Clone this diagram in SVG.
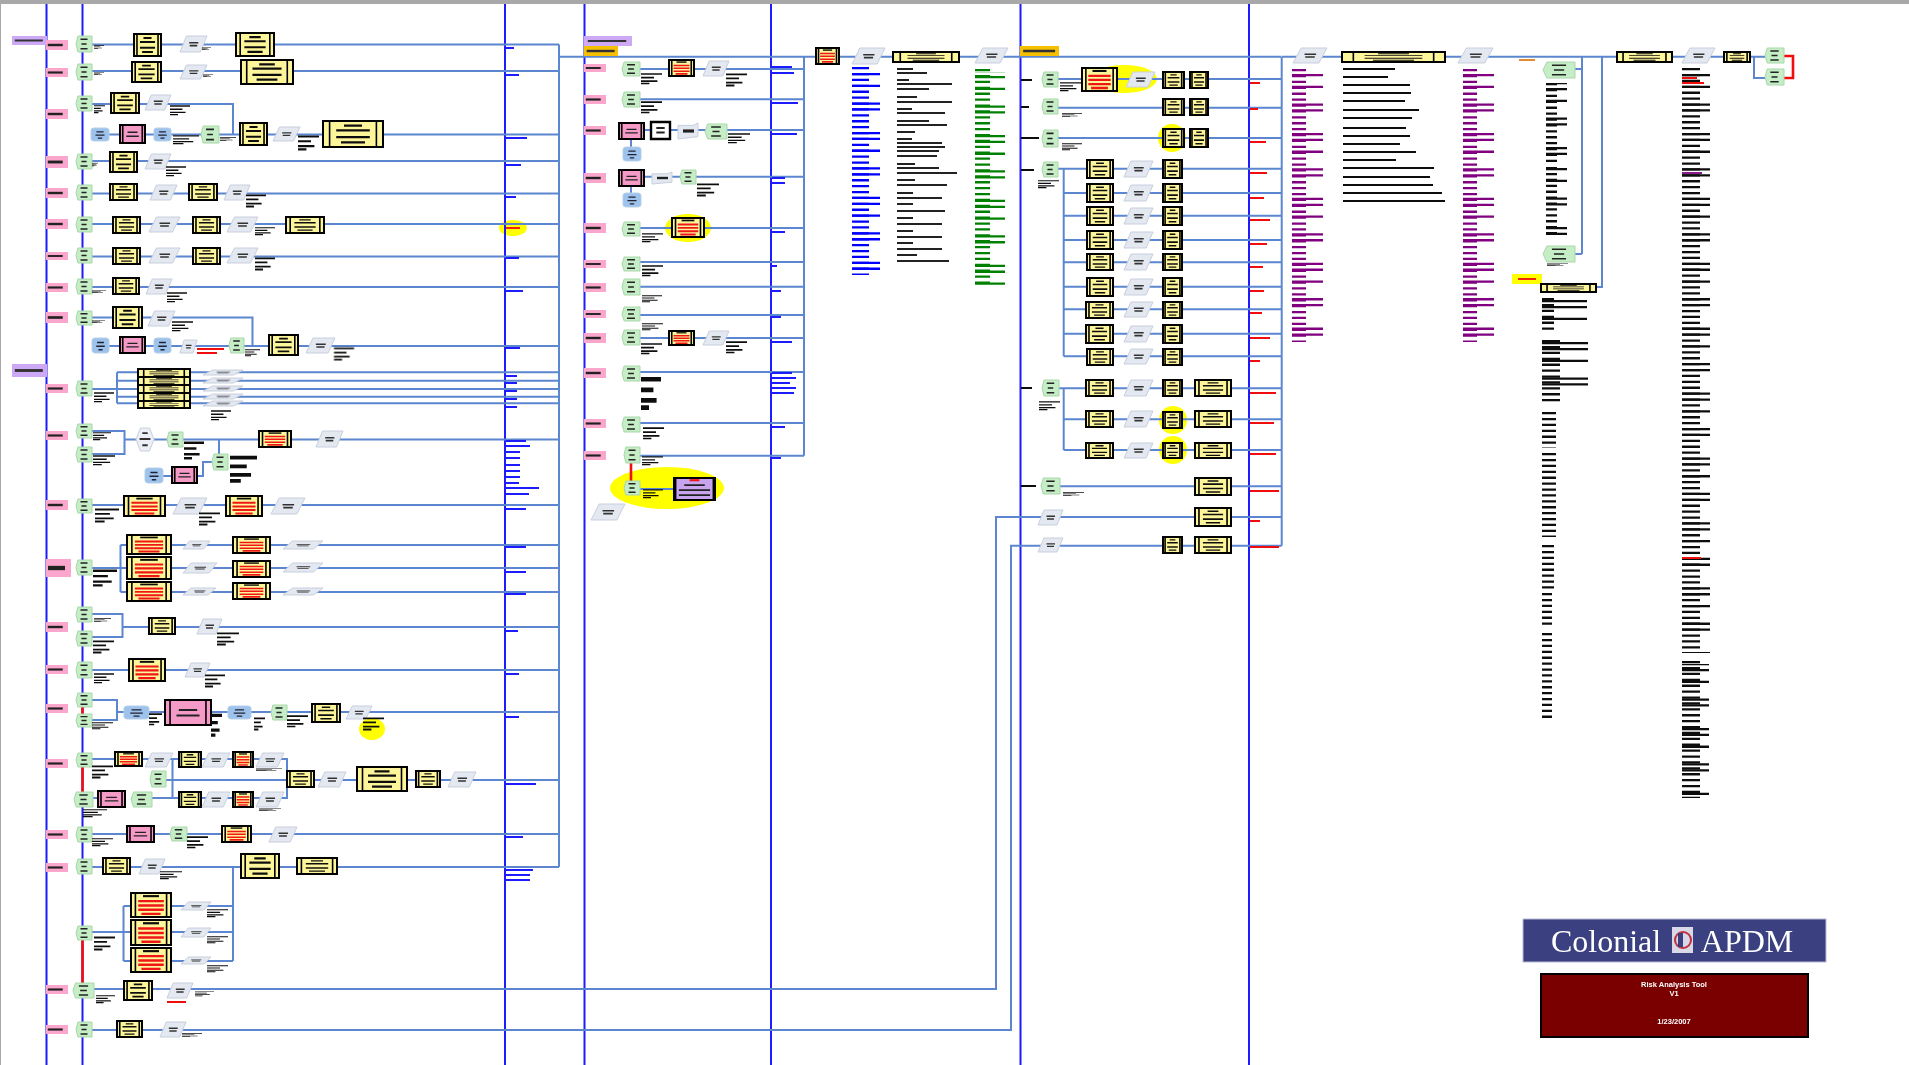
<svg xmlns="http://www.w3.org/2000/svg" width="1909" height="1065" viewBox="0 0 1909 1065">
<style>
symbol{overflow:visible}
.n{vector-effect:non-scaling-stroke}
.l{fill:none;stroke:#5b87d0;stroke-width:2}
.v{fill:none;stroke:#1a1aff;stroke-width:2}
.r{fill:none;stroke:#f01010;stroke-width:2.6}
.hl{fill:#ffff00}
.d{fill:none;stroke-dasharray:2.3 3.6}
.e{fill:none;stroke-dasharray:2.3 3.6 2.3 9.5 2.3 15.4 2.3 3.6 2.3 21.3}
.s{fill:none;stroke-width:1.8}
</style>
<defs>
<filter id="soft" filterUnits="userSpaceOnUse" x="0" y="0" width="1909" height="1065"><feGaussianBlur stdDeviation="0.45"/></filter>
<filter id="soft2" filterUnits="userSpaceOnUse" x="0" y="0" width="1909" height="1065"><feGaussianBlur stdDeviation="0.55"/></filter>
<symbol id="Y" viewBox="0 0 100 100" preserveAspectRatio="none"><rect width="100" height="100" fill="#fdf59a" stroke="#000" stroke-width="2" class="n"/><path d="M11 0V100M89 0V100" stroke="#000" stroke-width="1.6" class="n"/><path d="M35 18H65M22 36H78M22 62H78M30 82H70" stroke="#111" stroke-width="9" fill="none"/></symbol>
<symbol id="R" viewBox="0 0 100 100" preserveAspectRatio="none"><rect width="100" height="100" fill="#fdf59a" stroke="#000" stroke-width="2" class="n"/><path d="M11 0V100M89 0V100" stroke="#000" stroke-width="1.6" class="n"/><path d="M30 13H70" stroke="#111" stroke-width="9"/><path d="M18 34H82M18 52H82M18 70H82M26 87H74" stroke="#f01818" stroke-width="10" fill="none"/></symbol>
<symbol id="K" viewBox="0 0 100 100" preserveAspectRatio="none"><rect width="100" height="100" fill="#f59ac6" stroke="#000" stroke-width="2" class="n"/><path d="M11 0V100M89 0V100" stroke="#000" stroke-width="1.6" class="n"/><path d="M30 40H70M25 62H75" stroke="#222" stroke-width="8" fill="none"/></symbol>
<symbol id="U" viewBox="0 0 100 100" preserveAspectRatio="none"><rect width="100" height="100" fill="#c8a4ee" stroke="#000" stroke-width="2" class="n"/><path d="M4 0V100M96 0V100" stroke="#000" stroke-width="1.6" class="n"/><path d="M38 10H62" stroke="#f01818" stroke-width="10"/><path d="M25 32H75M12 55H88M12 78H88" stroke="#222" stroke-width="8" fill="none"/></symbol>
<symbol id="W" viewBox="0 0 100 100" preserveAspectRatio="none"><rect width="100" height="100" fill="#fff" stroke="#000" stroke-width="2.4" class="n"/><path d="M28 35H72M28 62H72" stroke="#222" stroke-width="12"/></symbol>
<symbol id="G" viewBox="0 0 100 100" preserveAspectRatio="none"><polygon points="12,0 100,0 100,100 12,100 0,50" fill="#c6eec6" stroke="#a9d6a9" stroke-width="1" class="n"/><path d="M28 20H72M34 50H66M28 80H72" stroke="#222" stroke-width="10" fill="none"/></symbol>
<symbol id="P" viewBox="0 0 100 100" preserveAspectRatio="none"><polygon points="24,0 100,0 76,100 0,100" fill="#e3e8f1" stroke="#c8cfdd" stroke-width="1" class="n"/><path d="M34 42H68M36 60H64" stroke="#333" stroke-width="10" fill="none"/></symbol>
<symbol id="B" viewBox="0 0 100 100" preserveAspectRatio="none"><rect width="100" height="100" rx="18" ry="18" fill="#9dc3ec" stroke="#b7cfe8" stroke-width="1" class="n"/><path d="M30 30H70M25 55H75M38 78H62" stroke="#223" stroke-width="9" fill="none"/></symbol>
<symbol id="H" viewBox="0 0 100 100" preserveAspectRatio="none"><polygon points="25,0 75,0 100,50 75,100 25,100 0,50" fill="#eceff5" stroke="#c8cfdd" stroke-width="1" class="n"/><path d="M35 22H65M20 48H80M35 75H65" stroke="#333" stroke-width="8" fill="none"/></symbol>
<symbol id="D" viewBox="0 0 100 100" preserveAspectRatio="none"><polygon points="0,15 75,15 100,0 100,85 0,100" fill="#e3e8f1" stroke="#c8cfdd" stroke-width="1" class="n"/><path d="M25 50H80" stroke="#222" stroke-width="20"/></symbol>
<symbol id="T" viewBox="0 0 100 100" preserveAspectRatio="none"><rect width="100" height="100" fill="#fba6cc"/><path d="M8 50H76" stroke="#222" stroke-width="24"/></symbol>
<symbol id="V" viewBox="0 0 100 100" preserveAspectRatio="none"><rect width="100" height="100" fill="#cda8f5"/><path d="M8 50H88" stroke="#333" stroke-width="22"/></symbol>
<symbol id="O" viewBox="0 0 100 100" preserveAspectRatio="none"><rect width="100" height="100" fill="#f5c000"/><path d="M8 50H90" stroke="#333" stroke-width="24"/></symbol>
<symbol id="C" viewBox="0 0 100 100" preserveAspectRatio="none"><path d="M0 10H100M0 42H62M0 74H78M0 96H40" stroke="#111" stroke-width="14" fill="none"/></symbol>
</defs>
<g filter="url(#soft)">
<rect width="1909" height="1065" fill="#fff"/>
<rect width="1909" height="4" fill="#a8a8a8"/>
<rect width="1" height="1065" fill="#a8a8a8"/>

<g id="highlights" class="hl">
<ellipse cx="513" cy="228" rx="14" ry="8"/>
<ellipse cx="372" cy="729" rx="13" ry="11"/>
<ellipse cx="688" cy="228" rx="23" ry="14"/>
<ellipse cx="667" cy="488" rx="57" ry="21"/>
<ellipse cx="1124" cy="79" rx="33" ry="14"/>
<circle cx="1172" cy="138" r="14"/>
<circle cx="1173" cy="420" r="14"/>
<circle cx="1173" cy="450" r="14"/>
<rect x="1512" y="274" width="30" height="10"/>
</g>

<g id="swimlanes" class="v">
<path d="M46.5 4V1065M82.5 4V1065M505 4V1065M584.5 4V1065M771 4V1065M1020.5 4V1065M1249 4V1065"/>
</g>

<g id="connectors">
<g class="l">
<path d="M92 44.5H559M92 71H559M92 104H233V134.5M92 134.5H559M92 161H559M92 193.5H559M92 224H559M92 256.5H559M92 287H559M92 317.5H252.5V346M92 346H559"/>
<path d="M92 389H117M117 372.3V403.3M117 372.3H559M117 380.7H559M117 389H559M117 396.7H559M117 403.3H559"/>
<path d="M92 431H124.5V454H92M124.5 439.5H559M219 439.5V454M163 476H203V462H212"/>
<path d="M92 505H559M92 568H120.5M120.5 545V592M120.5 545H559M120.5 568H559M120.5 592H559"/>
<path d="M92 614H122.5V637H92M122.5 627H559M92 670H559M92 700H117V720H92M117 712H559"/>
<path d="M92 759H287V798H131M172.5 759V798M152 798H179M166 780H559M92 798H98M92 834H559M92 867H559"/>
<path d="M92 932H123.5M123.5 906V961M123.5 906H233M123.5 932H233M123.5 961H233M233 867V961"/>
<path d="M559 44.5V867M559 56.7H1281M1281.7 56.7V545.7"/>
<path d="M94 989H996V517H1281.7M92 1030H1011V545.7H1281.7"/>
<path d="M640 69H804M640 99.3H804M644 130H804M631 139V147M631 186V193M644 176.7H804M640 228H804M640 262H804M640 286.7H804M640 315H804M640 338H804M640 372H804M640 423H804M640 455.7H804M804 56.7V455.7M640 489H674"/>
<path d="M1058 79H1281.7M1058 107.7H1281.7M1058 138H1281.7M1058 168.7H1281.7M1063.7 168.7V356.3M1063.7 193H1281.7M1063.7 215.7H1281.7M1063.7 240H1281.7M1063.7 262.3H1281.7M1063.7 286.7H1281.7M1063.7 309.3H1281.7M1063.7 333.7H1281.7M1063.7 356.3H1281.7"/>
<path d="M1059 388.3H1281.7M1063.7 388.3V450M1063.7 419.3H1281.7M1063.7 450H1281.7M1060 486.3H1281.7"/>
<path d="M1281.7 56.7H1724M1575 69H1582M1575 254H1582M1582 56.7V254M1602 56.7V287H1596M1750 56.7H1765M1754 56.7V78H1765"/>
</g>
<g class="r">
<path d="M82.5 707V714M82.5 767V792M82.5 940V983M631 463V481M1784 56H1793V78H1784"/>
</g>
</g>

<g id="nodes">
<g id="t0"><use href="#V" x="12" y="36" width="35" height="9"/></g>
<g id="t1"><use href="#T" x="46" y="40" width="22" height="10"/></g>
<g id="t2"><use href="#T" x="46" y="68" width="22" height="9"/></g>
<g id="t3"><use href="#T" x="46" y="109" width="22" height="10"/></g>
<g id="t4"><use href="#T" x="46" y="156" width="22" height="12"/></g>
<g id="t5"><use href="#T" x="46" y="188" width="22" height="10"/></g>
<g id="t6"><use href="#T" x="46" y="219" width="22" height="10"/></g>
<g id="t7"><use href="#T" x="46" y="252" width="22" height="8"/></g>
<g id="t8"><use href="#T" x="46" y="283" width="22" height="9"/></g>
<g id="t9"><use href="#T" x="46" y="312" width="22" height="11"/></g>
<g id="t10"><use href="#V" x="12" y="364" width="35" height="13"/></g>
<g id="t11"><use href="#T" x="46" y="384" width="22" height="9"/></g>
<g id="t12"><use href="#T" x="46" y="431" width="22" height="9"/></g>
<g id="t13"><use href="#T" x="46" y="500" width="22" height="10"/></g>
<g id="t14"><use href="#T" x="46" y="559" width="25" height="18"/></g>
<g id="t15"><use href="#T" x="46" y="622" width="22" height="10"/></g>
<g id="t16"><use href="#T" x="46" y="665" width="22" height="9"/></g>
<g id="t17"><use href="#T" x="46" y="704" width="22" height="9"/></g>
<g id="t18"><use href="#T" x="46" y="759" width="22" height="9"/></g>
<g id="t19"><use href="#T" x="46" y="830" width="22" height="9"/></g>
<g id="t20"><use href="#T" x="46" y="863" width="22" height="9"/></g>
<g id="t21"><use href="#T" x="46" y="985" width="22" height="9"/></g>
<g id="t22"><use href="#T" x="46" y="1025" width="22" height="9"/></g>

<g id="a1"><use href="#G" x="76" y="36" width="16" height="16"/></g>
<g id="a2"><use href="#Y" x="134" y="34" width="27" height="22"/></g>
<g id="a3"><use href="#P" x="180" y="36" width="27" height="16"/></g>
<g id="a4"><use href="#Y" x="236" y="33" width="38" height="23"/></g>
<g id="b1"><use href="#G" x="76" y="64" width="16" height="16"/></g>
<g id="b2"><use href="#Y" x="132" y="62" width="29" height="20"/></g>
<g id="b3"><use href="#P" x="180" y="65" width="27" height="14"/></g>
<g id="b4"><use href="#Y" x="241" y="60" width="52" height="24"/></g>
<g id="c1"><use href="#G" x="76" y="96" width="16" height="15"/></g>
<g id="c2"><use href="#Y" x="111" y="93" width="28" height="20"/></g>
<g id="c3"><use href="#P" x="145" y="95" width="26" height="15"/></g>
<g id="c4"><use href="#B" x="91" y="128" width="18" height="13"/></g>
<g id="c5"><use href="#K" x="120" y="125" width="25" height="18"/></g>
<g id="c6"><use href="#B" x="154" y="128" width="17" height="13"/></g>
<g id="c7"><use href="#G" x="201" y="126" width="18" height="17"/></g>
<g id="c8"><use href="#Y" x="240" y="123" width="27" height="22"/></g>
<g id="c9"><use href="#P" x="273" y="127" width="27" height="14"/></g>
<g id="c10"><use href="#Y" x="323" y="121" width="60" height="26"/></g>
<g id="d1"><use href="#G" x="76" y="154" width="16" height="15"/></g>
<g id="d2"><use href="#Y" x="110" y="152" width="27" height="20"/></g>
<g id="d3"><use href="#P" x="145" y="154" width="26" height="15"/></g>
<g id="e1"><use href="#G" x="76" y="185" width="16" height="15"/></g>
<g id="e2"><use href="#Y" x="110" y="184" width="27" height="16"/></g>
<g id="e3"><use href="#P" x="150" y="185" width="27" height="15"/></g>
<g id="e4"><use href="#Y" x="189" y="184" width="28" height="16"/></g>
<g id="e5"><use href="#P" x="224" y="185" width="26" height="15"/></g>
<g id="f1"><use href="#G" x="76" y="217" width="16" height="15"/></g>
<g id="f2"><use href="#Y" x="113" y="217" width="27" height="16"/></g>
<g id="f3"><use href="#P" x="149" y="217" width="31" height="15"/></g>
<g id="f4"><use href="#Y" x="193" y="217" width="27" height="16"/></g>
<g id="f5"><use href="#P" x="227" y="217" width="31" height="15"/></g>
<g id="f6"><use href="#Y" x="286" y="217" width="38" height="16"/></g>
<g id="g1"><use href="#G" x="76" y="248" width="16" height="15"/></g>
<g id="g2"><use href="#Y" x="113" y="248" width="27" height="16"/></g>
<g id="g3"><use href="#P" x="149" y="248" width="31" height="15"/></g>
<g id="g4"><use href="#Y" x="193" y="248" width="27" height="16"/></g>
<g id="g5"><use href="#P" x="227" y="248" width="31" height="15"/></g>
<g id="h1"><use href="#G" x="76" y="279" width="16" height="15"/></g>
<g id="h2"><use href="#Y" x="113" y="278" width="26" height="16"/></g>
<g id="h3"><use href="#P" x="146" y="279" width="26" height="15"/></g>
<g id="i1"><use href="#G" x="76" y="311" width="16" height="14"/></g>
<g id="i2"><use href="#Y" x="113" y="307" width="29" height="21"/></g>
<g id="i3"><use href="#P" x="148" y="311" width="27" height="15"/></g>
<g id="i4"><use href="#B" x="92" y="338" width="17" height="15"/></g>
<g id="i5"><use href="#K" x="120" y="337" width="25" height="16"/></g>
<g id="i6"><use href="#B" x="154" y="338" width="17" height="15"/></g>
<g id="i7"><use href="#P" x="180" y="340" width="17" height="13"/></g>
<g id="i8"><use href="#G" x="229" y="338" width="15" height="15"/></g>
<g id="i9"><use href="#Y" x="269" y="335" width="29" height="20"/></g>
<g id="i10"><use href="#P" x="306" y="338" width="29" height="15"/></g>

<g id="j1"><use href="#G" x="76" y="381" width="16" height="15"/></g>
<g id="j2"><use href="#Y" x="138" y="369" width="52" height="8"/></g>
<g id="j3"><use href="#Y" x="138" y="377" width="52" height="8"/></g>
<g id="j4"><use href="#Y" x="138" y="385" width="52" height="8"/></g>
<g id="j5"><use href="#Y" x="138" y="393" width="52" height="8"/></g>
<g id="j6"><use href="#Y" x="138" y="401" width="52" height="7"/></g>
<g id="j7"><use href="#P" x="203" y="370" width="40" height="5"/></g>
<g id="j8"><use href="#P" x="203" y="378" width="40" height="5"/></g>
<g id="j9"><use href="#P" x="203" y="386" width="40" height="5"/></g>
<g id="j10"><use href="#P" x="203" y="394" width="40" height="5"/></g>
<g id="j11"><use href="#P" x="203" y="401" width="40" height="5"/></g>
<g id="k1"><use href="#G" x="76" y="424" width="16" height="14"/></g>
<g id="k2"><use href="#G" x="76" y="447" width="16" height="15"/></g>
<g id="k3"><use href="#H" x="136" y="428" width="18" height="23"/></g>
<g id="k4"><use href="#G" x="167" y="432" width="16" height="15"/></g>
<g id="k5"><use href="#R" x="259" y="431" width="32" height="16"/></g>
<g id="k6"><use href="#P" x="316" y="431" width="27" height="16"/></g>
<g id="k7"><use href="#G" x="212" y="454" width="16" height="16"/></g>
<g id="k8"><use href="#B" x="145" y="468" width="18" height="15"/></g>
<g id="k9"><use href="#K" x="172" y="467" width="25" height="16"/></g>
<g id="l1"><use href="#G" x="76" y="499" width="16" height="14"/></g>
<g id="l2"><use href="#R" x="124" y="496" width="41" height="20"/></g>
<g id="l3"><use href="#P" x="173" y="498" width="34" height="16"/></g>
<g id="l4"><use href="#R" x="226" y="496" width="36" height="20"/></g>
<g id="l5"><use href="#P" x="271" y="498" width="34" height="16"/></g>
<g id="m1"><use href="#G" x="76" y="560" width="16" height="15"/></g>
<g id="m2"><use href="#R" x="127" y="535" width="44" height="19"/></g>
<g id="m3"><use href="#R" x="127" y="557" width="44" height="22"/></g>
<g id="m4"><use href="#R" x="127" y="582" width="44" height="19"/></g>
<g id="m5"><use href="#P" x="183" y="541" width="27" height="8"/></g>
<g id="m6"><use href="#P" x="183" y="563" width="34" height="10"/></g>
<g id="m7"><use href="#P" x="183" y="588" width="33" height="7"/></g>
<g id="m8"><use href="#R" x="233" y="537" width="37" height="16"/></g>
<g id="m9"><use href="#R" x="233" y="561" width="37" height="16"/></g>
<g id="m10"><use href="#R" x="233" y="583" width="37" height="16"/></g>
<g id="m11"><use href="#P" x="283" y="541" width="40" height="8"/></g>
<g id="m12"><use href="#P" x="283" y="563" width="40" height="9"/></g>
<g id="m13"><use href="#P" x="283" y="588" width="40" height="7"/></g>
<g id="o1"><use href="#G" x="76" y="607" width="16" height="15"/></g>
<g id="o2"><use href="#G" x="76" y="631" width="16" height="15"/></g>
<g id="o3"><use href="#Y" x="149" y="618" width="26" height="16"/></g>
<g id="o4"><use href="#P" x="197" y="619" width="25" height="15"/></g>
<g id="p1"><use href="#G" x="76" y="662" width="16" height="16"/></g>
<g id="p2"><use href="#R" x="129" y="659" width="36" height="22"/></g>
<g id="p3"><use href="#P" x="185" y="663" width="25" height="14"/></g>
<g id="q1"><use href="#G" x="76" y="693" width="16" height="14"/></g>
<g id="q2"><use href="#G" x="76" y="714" width="16" height="13"/></g>
<g id="q3"><use href="#B" x="124" y="706" width="25" height="13"/></g>
<g id="q4"><use href="#K" x="165" y="700" width="46" height="25"/></g>
<g id="q5"><use href="#B" x="228" y="706" width="23" height="13"/></g>
<g id="q6"><use href="#G" x="271" y="705" width="16" height="15"/></g>
<g id="q7"><use href="#Y" x="312" y="704" width="28" height="18"/></g>
<g id="q8"><use href="#P" x="346" y="706" width="26" height="13"/></g>
<g id="r1"><use href="#G" x="76" y="753" width="16" height="14"/></g>
<g id="r2"><use href="#R" x="115" y="752" width="27" height="14"/></g>
<g id="r3"><use href="#P" x="145" y="753" width="28" height="14"/></g>
<g id="r4"><use href="#Y" x="179" y="752" width="22" height="15"/></g>
<g id="r5"><use href="#P" x="202" y="753" width="28" height="14"/></g>
<g id="r6"><use href="#R" x="233" y="752" width="20" height="15"/></g>
<g id="r7"><use href="#P" x="256" y="753" width="28" height="14"/></g>
<g id="r8"><use href="#G" x="150" y="771" width="16" height="16"/></g>
<g id="r9"><use href="#Y" x="287" y="771" width="27" height="16"/></g>
<g id="r10"><use href="#P" x="318" y="772" width="28" height="15"/></g>
<g id="r11"><use href="#Y" x="357" y="767" width="50" height="24"/></g>
<g id="r12"><use href="#Y" x="416" y="771" width="24" height="16"/></g>
<g id="r13"><use href="#P" x="448" y="772" width="28" height="15"/></g>
<g id="r14"><use href="#G" x="74" y="792" width="19" height="15"/></g>
<g id="r15"><use href="#K" x="98" y="791" width="27" height="16"/></g>
<g id="r16"><use href="#G" x="131" y="792" width="21" height="15"/></g>
<g id="r17"><use href="#Y" x="179" y="792" width="22" height="15"/></g>
<g id="r18"><use href="#P" x="202" y="792" width="28" height="15"/></g>
<g id="r19"><use href="#R" x="233" y="792" width="20" height="15"/></g>
<g id="r20"><use href="#P" x="256" y="792" width="28" height="15"/></g>
<g id="s1"><use href="#G" x="76" y="827" width="16" height="15"/></g>
<g id="s2"><use href="#K" x="127" y="826" width="27" height="16"/></g>
<g id="s3"><use href="#G" x="170" y="827" width="17" height="14"/></g>
<g id="s4"><use href="#R" x="222" y="826" width="29" height="16"/></g>
<g id="s5"><use href="#P" x="269" y="827" width="28" height="15"/></g>
<g id="u1"><use href="#G" x="76" y="859" width="16" height="15"/></g>
<g id="u2"><use href="#Y" x="103" y="858" width="27" height="16"/></g>
<g id="u3"><use href="#P" x="139" y="859" width="26" height="15"/></g>
<g id="u4"><use href="#Y" x="241" y="854" width="38" height="24"/></g>
<g id="u5"><use href="#Y" x="297" y="858" width="40" height="16"/></g>
<g id="w1"><use href="#G" x="76" y="926" width="16" height="14"/></g>
<g id="w2"><use href="#R" x="131" y="893" width="40" height="24"/></g>
<g id="w3"><use href="#R" x="131" y="920" width="40" height="25"/></g>
<g id="w4"><use href="#R" x="131" y="948" width="40" height="24"/></g>
<g id="w5"><use href="#P" x="181" y="902" width="30" height="8"/></g>
<g id="w6"><use href="#P" x="181" y="928" width="30" height="9"/></g>
<g id="w7"><use href="#P" x="181" y="957" width="30" height="7"/></g>
<g id="x1"><use href="#G" x="73" y="983" width="21" height="15"/></g>
<g id="x2"><use href="#Y" x="124" y="981" width="28" height="19"/></g>
<g id="x3"><use href="#P" x="167" y="983" width="26" height="15"/></g>
<g id="x4"><use href="#G" x="76" y="1022" width="16" height="15"/></g>
<g id="x5"><use href="#Y" x="117" y="1021" width="25" height="16"/></g>
<g id="x6"><use href="#P" x="160" y="1022" width="26" height="15"/></g>

<g id="mt1"><use href="#V" x="584" y="36" width="48" height="10"/></g>
<g id="mt2"><use href="#O" x="584" y="46" width="34" height="10"/></g>
<g id="mt3"><use href="#T" x="584" y="64" width="22" height="8"/></g>
<g id="mt4"><use href="#T" x="584" y="95" width="22" height="9"/></g>
<g id="mt5"><use href="#T" x="584" y="126" width="22" height="9"/></g>
<g id="mt6"><use href="#T" x="584" y="173" width="22" height="10"/></g>
<g id="mt7"><use href="#T" x="584" y="223" width="22" height="10"/></g>
<g id="mt8"><use href="#T" x="584" y="260" width="22" height="8"/></g>
<g id="mt9"><use href="#T" x="584" y="283" width="22" height="9"/></g>
<g id="mt10"><use href="#T" x="584" y="310" width="22" height="8"/></g>
<g id="mt11"><use href="#T" x="584" y="333" width="22" height="10"/></g>
<g id="mt12"><use href="#T" x="584" y="368" width="22" height="10"/></g>
<g id="mt13"><use href="#T" x="584" y="419" width="22" height="9"/></g>
<g id="mt14"><use href="#T" x="584" y="451" width="22" height="9"/></g>
<g id="aa1"><use href="#G" x="622" y="62" width="18" height="14"/></g>
<g id="aa2"><use href="#R" x="669" y="60" width="25" height="16"/></g>
<g id="aa3"><use href="#P" x="703" y="61" width="26" height="15"/></g>
<g id="ab1"><use href="#G" x="622" y="92" width="18" height="15"/></g>
<g id="ac1"><use href="#K" x="619" y="123" width="25" height="16"/></g>
<g id="ac2"><use href="#W" x="651" y="122" width="19" height="17"/></g>
<g id="ac3"><use href="#D" x="678" y="123" width="20" height="16"/></g>
<g id="ac4"><use href="#G" x="705" y="124" width="22" height="15"/></g>
<g id="ac5"><use href="#B" x="623" y="147" width="18" height="14"/></g>
<g id="ad1"><use href="#K" x="619" y="170" width="25" height="16"/></g>
<g id="ad2"><use href="#B" x="623" y="193" width="18" height="14"/></g>
<g id="ad3"><use href="#D" x="652" y="172" width="20" height="12"/></g>
<g id="ad4"><use href="#G" x="680" y="170" width="16" height="14"/></g>
<g id="ae1"><use href="#G" x="622" y="222" width="18" height="14"/></g>
<g id="ae2"><use href="#R" x="672" y="218" width="32" height="19"/></g>
<g id="af1"><use href="#G" x="622" y="257" width="18" height="14"/></g>
<g id="ag1"><use href="#G" x="622" y="279" width="18" height="16"/></g>
<g id="ah1"><use href="#G" x="622" y="307" width="18" height="14"/></g>
<g id="ai1"><use href="#G" x="622" y="330" width="18" height="15"/></g>
<g id="ai2"><use href="#R" x="669" y="331" width="25" height="14"/></g>
<g id="ai3"><use href="#P" x="703" y="331" width="26" height="14"/></g>
<g id="aj1"><use href="#G" x="622" y="366" width="18" height="15"/></g>
<g id="ak1"><use href="#G" x="622" y="417" width="18" height="15"/></g>
<g id="al1"><use href="#G" x="624" y="447" width="16" height="16"/></g>
<g id="al2"><use href="#G" x="624" y="481" width="16" height="14"/></g>
<g id="al3"><use href="#U" x="674" y="478" width="41" height="22"/></g>
<g id="al4"><use href="#P" x="591" y="504" width="34" height="16"/></g>
<g id="ma1"><use href="#R" x="816" y="48" width="23" height="16"/></g>
<g id="ma2"><use href="#P" x="852" y="48" width="33" height="16"/></g>
<g id="ma3"><use href="#Y" x="893" y="52" width="66" height="10"/></g>
<g id="ma4"><use href="#P" x="975" y="48" width="33" height="15"/></g>
<g id="ma5"><use href="#O" x="1020" y="46" width="39" height="10"/></g>

<g id="ba1"><use href="#G" x="1042" y="72" width="16" height="15"/></g>
<g id="ba2"><use href="#R" x="1082" y="68" width="35" height="23"/></g>
<g id="ba3"><use href="#P" x="1126" y="72" width="29" height="15"/></g>
<g id="ba4"><use href="#Y" x="1163" y="72" width="21" height="16"/></g>
<g id="ba5"><use href="#Y" x="1190" y="72" width="18" height="16"/></g>
<g id="bb1"><use href="#G" x="1042" y="99" width="16" height="15"/></g>
<g id="bb2"><use href="#Y" x="1163" y="99" width="21" height="16"/></g>
<g id="bb3"><use href="#Y" x="1190" y="99" width="18" height="16"/></g>
<g id="bc1"><use href="#G" x="1042" y="130" width="16" height="17"/></g>
<g id="bc2"><use href="#Y" x="1163" y="129" width="21" height="18"/></g>
<g id="bc3"><use href="#Y" x="1190" y="129" width="18" height="18"/></g>
<g id="bd0"><use href="#G" x="1042" y="162" width="16" height="15"/></g>
<g id="bd1"><use href="#Y" x="1087" y="160" width="26" height="18"/></g><g id="bd2"><use href="#P" x="1124" y="161" width="29" height="16"/></g><g id="bd3"><use href="#Y" x="1163" y="160" width="19" height="18"/></g>
<g id="be1"><use href="#Y" x="1087" y="184" width="26" height="18"/></g><g id="be2"><use href="#P" x="1124" y="185" width="29" height="16"/></g><g id="be3"><use href="#Y" x="1163" y="184" width="19" height="18"/></g>
<g id="bf1"><use href="#Y" x="1087" y="207" width="26" height="18"/></g><g id="bf2"><use href="#P" x="1124" y="208" width="29" height="16"/></g><g id="bf3"><use href="#Y" x="1163" y="207" width="19" height="18"/></g>
<g id="bg1"><use href="#Y" x="1087" y="231" width="26" height="18"/></g><g id="bg2"><use href="#P" x="1124" y="232" width="29" height="16"/></g><g id="bg3"><use href="#Y" x="1163" y="231" width="19" height="18"/></g>
<g id="bh1"><use href="#Y" x="1087" y="254" width="26" height="16"/></g><g id="bh2"><use href="#P" x="1124" y="254" width="29" height="16"/></g><g id="bh3"><use href="#Y" x="1163" y="254" width="19" height="16"/></g>
<g id="bi1"><use href="#Y" x="1087" y="278" width="26" height="18"/></g><g id="bi2"><use href="#P" x="1124" y="279" width="29" height="16"/></g><g id="bi3"><use href="#Y" x="1163" y="278" width="19" height="18"/></g>
<g id="bj1"><use href="#Y" x="1086" y="302" width="27" height="16"/></g><g id="bj2"><use href="#P" x="1124" y="302" width="29" height="15"/></g><g id="bj3"><use href="#Y" x="1163" y="302" width="19" height="16"/></g>
<g id="bk1"><use href="#Y" x="1086" y="325" width="27" height="18"/></g><g id="bk2"><use href="#P" x="1124" y="326" width="29" height="16"/></g><g id="bk3"><use href="#Y" x="1163" y="325" width="19" height="18"/></g>
<g id="bl1"><use href="#Y" x="1087" y="349" width="26" height="16"/></g><g id="bl2"><use href="#P" x="1124" y="349" width="29" height="15"/></g><g id="bl3"><use href="#Y" x="1163" y="349" width="19" height="16"/></g>
<g id="bm0"><use href="#G" x="1042" y="380" width="17" height="16"/></g>
<g id="bm1"><use href="#Y" x="1086" y="380" width="27" height="16"/></g><g id="bm2"><use href="#P" x="1124" y="380" width="29" height="16"/></g><g id="bm3"><use href="#Y" x="1163" y="380" width="19" height="16"/></g><g id="bm4"><use href="#Y" x="1195" y="380" width="36" height="16"/></g>
<g id="bn1"><use href="#Y" x="1086" y="411" width="27" height="16"/></g><g id="bn2"><use href="#P" x="1124" y="411" width="29" height="16"/></g><g id="bn3"><use href="#Y" x="1163" y="412" width="19" height="16"/></g><g id="bn4"><use href="#Y" x="1195" y="411" width="36" height="16"/></g>
<g id="bo1"><use href="#Y" x="1086" y="443" width="27" height="15"/></g><g id="bo2"><use href="#P" x="1124" y="443" width="29" height="15"/></g><g id="bo3"><use href="#Y" x="1163" y="443" width="19" height="15"/></g><g id="bo4"><use href="#Y" x="1195" y="443" width="36" height="15"/></g>
<g id="bp1"><use href="#G" x="1041" y="478" width="19" height="16"/></g>
<g id="bp2"><use href="#Y" x="1195" y="478" width="36" height="17"/></g>
<g id="bq1"><use href="#P" x="1038" y="510" width="25" height="15"/></g>
<g id="bq2"><use href="#Y" x="1195" y="508" width="36" height="18"/></g>
<g id="br1"><use href="#P" x="1038" y="538" width="25" height="14"/></g>
<g id="br2"><use href="#Y" x="1163" y="537" width="19" height="16"/></g>
<g id="br3"><use href="#Y" x="1195" y="537" width="36" height="16"/></g>

<g id="ca1"><use href="#P" x="1293" y="48" width="34" height="15"/></g>
<g id="ca2"><use href="#Y" x="1342" y="52" width="103" height="10"/></g>
<g id="ca3"><use href="#P" x="1458" y="48" width="35" height="15"/></g>
<g id="ca4"><use href="#Y" x="1617" y="52" width="55" height="10"/></g>
<g id="ca5"><use href="#G" x="1543" y="62" width="32" height="16"/></g>
<g id="ca6"><use href="#G" x="1543" y="246" width="32" height="16"/></g>
<g id="ca7"><use href="#Y" x="1541" y="284" width="55" height="8"/></g>
<g id="ca8"><use href="#P" x="1682" y="48" width="33" height="15"/></g>
<g id="ca9"><use href="#Y" x="1724" y="52" width="26" height="10"/></g>
<g id="ca10"><use href="#G" x="1765" y="48" width="19" height="15"/></g>
<g id="ca11"><use href="#G" x="1765" y="69" width="19" height="16"/></g>

<g id="brand">
<rect x="1523" y="919" width="303" height="43" fill="#3a3f80" stroke="#b9bcd6" stroke-width="1"/>
<text x="1606" y="952" font-family="Liberation Serif, serif" font-size="32" fill="#fff" text-anchor="middle">Colonial</text>
<rect x="1672" y="927" width="21" height="26" fill="#d8d8e6"/>
<circle cx="1683" cy="940" r="8" fill="none" stroke="#c03040" stroke-width="2"/>
<rect x="1678" y="933" width="5" height="14" fill="#3a3f80"/>
<text x="1747" y="952" font-family="Liberation Serif, serif" font-size="32" fill="#fff" text-anchor="middle">APDM</text>
</g>
<g id="title">
<rect x="1541" y="974" width="267" height="63" fill="#7a0000" stroke="#000" stroke-width="2"/>
<text x="1674" y="987" font-family="Liberation Sans, sans-serif" font-size="7.5" font-weight="700" fill="#fff" text-anchor="middle">Risk Analysis Tool</text>
<text x="1674" y="996" font-family="Liberation Sans, sans-serif" font-size="7.5" font-weight="700" fill="#fff" text-anchor="middle">V1</text>
<text x="1674" y="1024" font-family="Liberation Sans, sans-serif" font-size="7.5" font-weight="700" fill="#fff" text-anchor="middle">1/23/2007</text>
</g>
</g>

<g filter="url(#soft2)">
<g id="captions">
<use href="#C" x="94" y="45" width="10" height="4"/><use href="#C" x="202" y="47" width="9" height="3"/>
<use href="#C" x="94" y="72" width="10" height="3"/><use href="#C" x="203" y="74" width="10" height="3"/>
<use href="#C" x="94" y="105" width="11" height="8"/><use href="#C" x="170" y="105" width="20" height="10"/>
<use href="#C" x="173" y="135" width="26" height="9"/><use href="#C" x="220" y="137" width="16" height="4"/><use href="#C" x="298" y="135" width="21" height="15"/>
<use href="#C" x="92" y="163" width="6" height="3"/><use href="#C" x="166" y="166" width="20" height="10"/>
<use href="#C" x="246" y="194" width="20" height="13"/><use href="#C" x="255" y="227" width="20" height="8"/><use href="#C" x="255" y="257" width="20" height="13"/>
<use href="#C" x="92" y="290" width="14" height="3"/><use href="#C" x="167" y="292" width="20" height="10"/>
<use href="#C" x="92" y="320" width="13" height="3"/><use href="#C" x="172" y="321" width="21" height="10"/>
<use href="#C" x="245" y="349" width="15" height="7"/><use href="#C" x="334" y="347" width="20" height="13"/>
<use href="#C" x="94" y="392" width="20" height="10"/><use href="#C" x="211" y="410" width="20" height="10"/>
<use href="#C" x="93" y="432" width="18" height="8"/><use href="#C" x="93" y="455" width="22" height="10"/><use href="#C" x="184" y="441" width="20" height="18"/><use href="#C" x="230" y="455" width="27" height="27"/>
<use href="#C" x="95" y="508" width="24" height="14"/><use href="#C" x="199" y="512" width="21" height="13"/>
<use href="#C" x="93" y="569" width="24" height="17"/>
<use href="#C" x="94" y="618" width="17" height="4"/><use href="#C" x="93" y="640" width="21" height="13"/><use href="#C" x="217" y="632" width="22" height="13"/>
<use href="#C" x="94" y="673" width="20" height="10"/><use href="#C" x="205" y="674" width="20" height="13"/>
<use href="#C" x="92" y="722" width="21" height="7"/><use href="#C" x="149" y="713" width="13" height="12"/><use href="#C" x="211" y="713" width="11" height="23"/><use href="#C" x="254" y="717" width="11" height="13"/><use href="#C" x="287" y="715" width="21" height="12"/><use href="#C" x="363" y="717" width="21" height="13"/>
<use href="#C" x="92" y="765" width="21" height="13"/><use href="#C" x="256" y="768" width="26" height="3"/><use href="#C" x="83" y="809" width="24" height="8"/><use href="#C" x="259" y="808" width="22" height="3"/>
<use href="#C" x="92" y="838" width="21" height="8"/><use href="#C" x="187" y="836" width="21" height="12"/>
<use href="#C" x="160" y="871" width="22" height="8"/>
<use href="#C" x="94" y="936" width="21" height="14"/><use href="#C" x="207" y="909" width="21" height="8"/><use href="#C" x="207" y="936" width="21" height="7"/><use href="#C" x="207" y="965" width="21" height="7"/>
<use href="#C" x="96" y="995" width="19" height="8"/><use href="#C" x="195" y="991" width="19" height="5"/><use href="#C" x="182" y="1033" width="20" height="4"/>
<use href="#C" x="641" y="73" width="21" height="11"/><use href="#C" x="726" y="73" width="21" height="13"/><use href="#C" x="641" y="101" width="21" height="12"/>
<use href="#C" x="728" y="133" width="22" height="10"/><use href="#C" x="697" y="183" width="22" height="13"/><use href="#C" x="642" y="233" width="21" height="9"/>
<use href="#C" x="642" y="265" width="21" height="11"/><use href="#C" x="642" y="295" width="20" height="7"/><use href="#C" x="642" y="323" width="21" height="7"/>
<use href="#C" x="641" y="343" width="21" height="11"/><use href="#C" x="726" y="341" width="21" height="12"/><use href="#C" x="641" y="376" width="20" height="33"/>
<use href="#C" x="643" y="427" width="21" height="12"/><use href="#C" x="642" y="456" width="21" height="9"/><use href="#C" x="643" y="489" width="20" height="9"/>
<use href="#C" x="1060" y="82" width="21" height="9"/><use href="#C" x="1062" y="113" width="20" height="4"/><use href="#C" x="1062" y="143" width="20" height="7"/><use href="#C" x="1038" y="180" width="21" height="8"/>
<use href="#C" x="1039" y="401" width="21" height="9"/><use href="#C" x="1063" y="492" width="21" height="4"/><use href="#C" x="1547" y="263" width="21" height="3"/>
</g>

<g id="side-notes">
<path class="s" stroke="#1a1aff" d="M506 48h8M506 75h13M506 138h21M506 165h15M506 197h10M506 258h13M506 291h17M506 348h14M506 376h11M506 383h11M506 391h11M506 399h11M506 407h11M506 441h20M506 446h24M506 452h14M506 458h14M506 465h14M506 471h14M506 477h14M506 483h13M506 488h33M506 494h23M506 509h20M506 547h20M506 572h20M506 594h20M506 631h12M506 674h13M506 717h13M506 784h30M506 837h17M506 870h27M506 875h24M506 880h24"/>
<path class="s" stroke="#f01010" d="M506 228h14"/>
<path class="s" stroke="#1a1aff" d="M772 67h20M772 73h22M772 103h26M772 134h25M772 178h13M772 183h13M772 232h13M772 266h5M772 291h9M772 317h9M772 342h20M772 373h20M772 378h24M772 383h18M772 388h24M772 393h22M772 427h13M772 458h9"/>
<path class="s" stroke="#f01010" d="M1250 83h10M1250 109h8M1250 142h16M1250 173h17M1250 198h14M1250 220h20M1250 244h17M1250 267h13M1250 291h14M1250 313h12M1250 338h20M1250 361h10M1250 393h26M1250 423h24M1250 454h26M1250 491h29M1250 521h10M1250 547h29"/>
<path class="s" stroke="#111" d="M1021 80h11M1021 107h8M1021 138h18M1021 170h13M1021 388h11M1021 486h15"/>
<path class="s" stroke="#f01010" d="M197 349h27M197 353h20M167 1002h19"/>
<path class="s" stroke="#e08020" d="M1519 60h16"/>
<path class="s" stroke="#f01010" d="M1518 279h18"/>
</g>

<g id="lists">
<path class="d" stroke="#00f" stroke-width="17" d="M860.5 67V275"/>
<path class="e" stroke="#00f" stroke-width="28" d="M866 70V275" style="stroke-dashoffset:3"/>
<path class="d" stroke="#008000" stroke-width="15" d="M982.5 69V285"/>
<path class="e" stroke="#008000" stroke-width="30" d="M990 72V285" style="stroke-dashoffset:2"/>
<path class="s" stroke="#222" d="M897 69h16M897 73h30M897 80h12M897 84h55M897 89h32M897 97h20M897 102h55M897 109h15M897 113h48M897 121h32M897 125h50M897 132h18M897 139h15M897 143h45M897 147h48M897 151h42M897 156h40M897 164h18M897 168h42M897 173h60M897 180h18M897 185h50M897 193h16M897 198h45M897 204h16M897 211h48M897 218h16M897 224h45M897 231h16M897 237h45M897 243h16M897 249h45M897 255h20M897 261h52"/>
<path class="d" stroke="#800080" stroke-width="14" d="M1299 69V342"/>
<path class="e" stroke="#800080" stroke-width="31" d="M1307.5 72V342" style="stroke-dashoffset:4"/>
<path class="d" stroke="#800080" stroke-width="14" d="M1470 69V342"/>
<path class="e" stroke="#800080" stroke-width="31" d="M1478.5 72V342" style="stroke-dashoffset:4"/>
<path class="s" stroke="#111" d="M1343 69h52M1343 77h45M1343 85h67M1343 93h68M1343 101h62M1343 110h76M1343 118h69M1343 128h63M1343 136h67M1343 144h57M1343 152h73M1343 160h53M1343 168h91M1343 177h87M1343 185h90M1343 193h99M1343 201h102"/>
<path class="d" stroke="#111" stroke-width="11" d="M1551.5 83V162"/>
<path class="d" stroke="#111" stroke-width="11" d="M1551.5 167V237"/>
<path class="e" stroke="#111" stroke-width="21" d="M1556.5 83V162" style="stroke-dashoffset:1"/>
<path class="e" stroke="#111" stroke-width="21" d="M1556.5 167V237" style="stroke-dashoffset:5"/>
<path class="d" stroke="#111" stroke-width="12" d="M1548 298V332"/>
<path class="e" stroke="#111" stroke-width="45" d="M1564.5 300V332"/>
<path class="d" stroke="#111" stroke-width="18" d="M1551 340V403"/>
<path class="e" stroke="#111" stroke-width="46" d="M1565 342V403"/>
<path class="d" stroke="#111" stroke-width="14" d="M1549 412V448"/>
<path class="d" stroke="#111" stroke-width="14" d="M1549 453V537"/>
<path class="d" stroke="#111" stroke-width="12" d="M1548 545V590"/>
<path class="d" stroke="#111" stroke-width="10" d="M1547 593V627"/>
<path class="d" stroke="#111" stroke-width="10" d="M1547 633V720"/>
<path class="d" stroke="#111" stroke-width="18" d="M1691 68V653"/>
<path class="e" stroke="#111" stroke-width="28" d="M1696 71V653" style="stroke-dashoffset:3"/>
<path class="d" stroke="#111" stroke-width="18" d="M1691 661V798"/>
<path class="e" stroke="#111" stroke-width="27" d="M1695.5 664V798" style="stroke-dashoffset:1"/>
<path class="s" stroke="#f01010" d="M1682 78h15M1682 83h22M1682 558h19"/>
<path class="s" stroke="#800080" d="M1682 173h20"/>
</g>
</g>
</g>
</svg>
